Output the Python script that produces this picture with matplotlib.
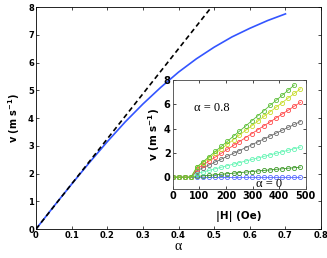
import matplotlib
matplotlib.use("Agg")
import matplotlib.pyplot as plt

# Main curve: velocity vs damping alpha
alpha = [0.0, 0.05, 0.1, 0.15, 0.2, 0.25, 0.3, 0.35, 0.4, 0.45, 0.5, 0.55, 0.6, 0.65, 0.7]
v_alpha = [0.0, 0.82, 1.62, 2.40, 3.15, 3.86, 4.51, 5.11, 5.66, 6.14, 6.56, 6.93, 7.24, 7.52, 7.76]
# Linear (dashed) reference
alpha_lin = [0.0, 0.492]
v_lin = [0.0, 8.0]

# Inset: velocity vs |H|
H = [0, 23, 46, 69, 91, 114, 137, 160, 183, 206, 229, 251, 274, 297, 320, 343, 366, 389, 411, 434, 457, 480]
v_a00 = [0.0] * 22
v_a01 = [0, 0, 0, 0, 0.06, 0.11, 0.15, 0.20, 0.24, 0.29, 0.33, 0.38, 0.42, 0.47, 0.51, 0.56, 0.60, 0.65, 0.69, 0.74, 0.78, 0.83]
v_a02 = [0, 0, 0, 0, 0.30, 0.43, 0.56, 0.69, 0.82, 0.95, 1.08, 1.20, 1.33, 1.46, 1.58, 1.71, 1.84, 1.97, 2.09, 2.22, 2.35, 2.48]
v_a04 = [0, 0, 0, 0, 0.53, 0.77, 1.01, 1.25, 1.49, 1.73, 1.97, 2.19, 2.43, 2.67, 2.91, 3.15, 3.39, 3.63, 3.86, 4.10, 4.34, 4.58]
v_a06 = [0, 0, 0, 0, 0.68, 1.00, 1.33, 1.65, 1.97, 2.30, 2.62, 2.93, 3.26, 3.58, 3.91, 4.23, 4.55, 4.88, 5.19, 5.51, 5.84, 6.16]
v_a07 = [0, 0, 0, 0, 0.81, 1.20, 1.58, 1.96, 2.34, 2.72, 3.10, 3.47, 3.85, 4.23, 4.61, 5.00, 5.38, 5.76, 6.13, 6.51, 6.89, 7.27]
v_a08 = [0, 0, 0, 0, 0.85, 1.27, 1.69, 2.12, 2.54, 2.96, 3.39, 3.79, 4.21, 4.64, 5.06, 5.48, 5.91, 6.33, 6.73, 7.16, 7.58]

inset_series = [
    (v_a00, "#5a6cff"),
    (v_a01, "#3f9a2a"),
    (v_a02, "#66f5b5"),
    (v_a04, "#6e6e6e"),
    (v_a06, "#ff4a4a"),
    (v_a07, "#c8dc2a"),
    (v_a08, "#5cbf38"),
]

main_xticks = [0, 0.1, 0.2, 0.3, 0.4, 0.5, 0.6, 0.7, 0.8]
main_yticks = [0, 1, 2, 3, 4, 5, 6, 7, 8]
inset_xticks = [0, 100, 200, 300, 400, 500]
inset_yticks = [0, 2, 4, 6, 8]

SERIF = ["Liberation Serif", "DejaVu Serif"]

fig = plt.figure(figsize=(3.27, 2.58), dpi=100)
ax = fig.add_axes([0.110, 0.112, 0.872, 0.860])
ax.plot(alpha, v_alpha, color="#3355ff", lw=1.2)
ax.plot(alpha_lin, v_lin, color="black", lw=1.2, ls=(0, (3, 2)))
ax.set_xlim(0, 0.8)
ax.set_ylim(0, 8)
ax.set_xticks(main_xticks)
ax.set_xticklabels([("%g" % t) for t in main_xticks])
ax.set_yticks(main_yticks)
ax.tick_params(direction="in", top=True, right=True, length=2.5, width=0.5,
               labelsize=6, pad=1.5)
for lab in ax.get_xticklabels() + ax.get_yticklabels():
    lab.set_fontweight("bold")
for s in ax.spines.values():
    s.set_linewidth(0.6)
ax.set_xlabel("α", family=SERIF, fontsize=10, labelpad=0)
ax.set_ylabel("v (m s$^{\\mathbf{-1}}$)", fontsize=7, fontweight="bold", labelpad=4)

ins = fig.add_axes([0.528, 0.266, 0.407, 0.424])
for vals, col in inset_series:
    ins.plot(H[:len(vals)], vals, color=col, lw=0.6, marker="o", ms=3.0,
             mfc="none", mec=col, mew=0.6)
ins.set_xlim(0, 500)
ins.set_ylim(-1, 8)
ins.set_xticks(inset_xticks)
ins.set_yticks(inset_yticks)
ins.tick_params(direction="in", top=True, right=True, length=2, width=0.5,
                labelsize=7, pad=1.5)
for lab in ins.get_xticklabels() + ins.get_yticklabels():
    lab.set_fontweight("bold")
for s in ins.spines.values():
    s.set_linewidth(0.6)
    s.set_color("#444444")
ins.set_xlabel("|H| (Oe)", fontsize=7.5, fontweight="bold", labelpad=7)
ins.set_ylabel("v (m s$^{\\mathbf{-1}}$)", fontsize=7.5, fontweight="bold", labelpad=1)
ins.text(80, 5.7, "α = 0.8", family=SERIF, fontsize=9, va="center", ha="left")
ins.text(312, -0.55, "α = 0", family=SERIF, fontsize=9, va="center", ha="left")

fig.savefig("out.png", dpi=100)
